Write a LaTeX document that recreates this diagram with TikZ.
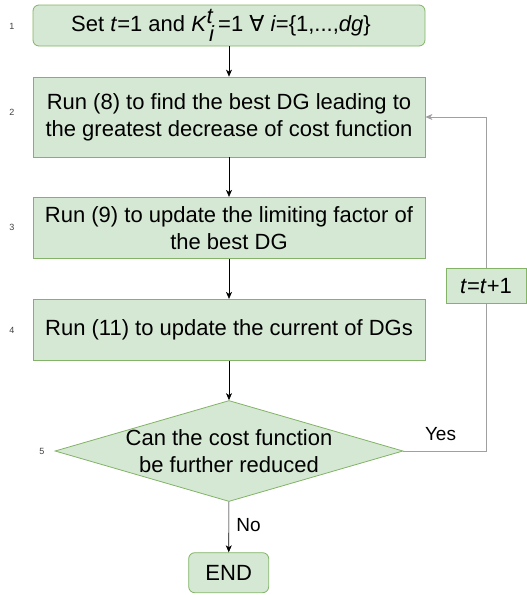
\documentclass[tikz,border=0pt]{standalone}
\usepackage{fontspec}
\setmainfont{Liberation Sans}
\newfontfamily\dejavu{DejaVu Sans}
\usetikzlibrary{arrows.meta,shapes.geometric}
\definecolor{boxfill}{HTML}{D5E8D4}
\definecolor{boxline}{HTML}{82B366}
\definecolor{loopline}{HTML}{A0A0A0}
\tikzset{
  base/.style={draw=boxline, fill=boxfill, line width=0.8pt, inner sep=0pt, align=center, font=\fontsize{22}{27}\selectfont},
  stepbox/.style={base, rectangle, minimum width=392pt},
  roundbox/.style={base, rectangle, rounded corners=6pt},
  decision/.style={base, diamond, minimum width=348pt, minimum height=101pt},
  tbox/.style={base, rectangle, minimum width=80pt, minimum height=35pt},
  arr/.style={-{Stealth[length=7pt,width=6pt,inset=2pt]}, line width=0.6pt, black},
  looparr/.style={-{Stealth[length=7pt,width=6pt,inset=2pt]}, line width=0.8pt, draw=loopline},
  num/.style={font=\fontsize{9}{10}\selectfont, text=black!75},
  lbl/.style={font=\fontsize{19}{22}\selectfont},
  dtext/.style={font=\fontsize{22}{27}\selectfont, align=center}
}
\begin{document}
\begin{tikzpicture}[x=1pt,y=-1pt]
\useasboundingbox (0,0) rectangle (527,595);
\node[roundbox, minimum width=392pt, minimum height=41pt] (b1) at (229,25.5)
  {Set \textit{t}=1 and \textit{K}$^{\textit{t}}_{\,\textit{i}}$\,=1 {\dejavu ∀} \textit{i}=\{1,...,\textit{dg}\}\hspace{16pt}};
\node[stepbox, minimum height=80pt] (b2) at (229,117)
  {Run (8) to find the best DG leading to\\the greatest decrease of cost function};
\node[stepbox, minimum height=61.4pt] (b3) at (229,228)
  {Run (9) to update the limiting factor of\\the best DG};
\node[stepbox, minimum height=61.4pt] (b4) at (229,330)
  {Run (11) to update the current of DGs};
\node[decision, label={[dtext]center:Can the cost function\\be further reduced}] (dec) at (229,451) {};
\node[roundbox, minimum width=80pt, minimum height=40pt] (end) at (228.7,572.7) {END};

\node[num] (n1) at (12,26) {1};
\node[num] (n2) at (12,112) {2};
\node[num] (n3) at (12,227) {3};
\node[num] (n4) at (12,330) {4};
\node[num] (n5) at (42,451) {5};

\draw[arr] (b1) -- (b2);
\draw[arr] (b2) -- (b3);
\draw[arr] (b3) -- (b4);
\draw[arr] (b4) -- (dec);
\draw[arr] (dec) -- node[lbl, right=4pt, pos=0.45] {No} (end);

\coordinate (c1) at (486,451);
\coordinate (c2) at (486,117);
\draw[looparr] (dec.east) -- (c1) -- node[tbox, pos=0.495] (tb) {\textit{t}=\textit{t}+1} (c2) -- (b2.east |- c2);
\node[lbl] (yes) at (440.5,434) {Yes};
\end{tikzpicture}
\end{document}
